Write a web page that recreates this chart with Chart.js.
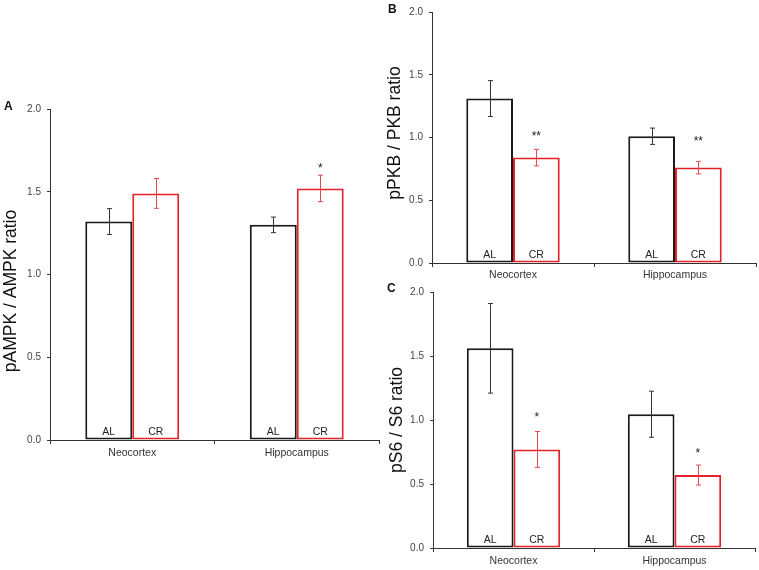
<!DOCTYPE html>
<html><head><meta charset="utf-8">
<script src="https://cdn.jsdelivr.net/npm/chart.js@4.4.1/dist/chart.umd.min.js"></script>
<style>
html,body{margin:0;padding:0;background:#fff;width:759px;height:570px;overflow:hidden;}
canvas{position:absolute;}
.lbl{position:absolute;font:bold 12px "Liberation Sans",Arial,sans-serif;color:#111;line-height:12px;}
</style></head><body>
<canvas id="cA" width="380" height="475" style="left:0;top:0"></canvas>
<canvas id="cB" width="379" height="290" style="left:380px;top:0"></canvas>
<canvas id="cC" width="379" height="290" style="left:380px;top:280px"></canvas>
<div class="lbl" style="left:4px;top:100px">A</div>
<div class="lbl" style="left:388px;top:3px">B</div>
<div class="lbl" style="left:387px;top:282px">C</div>
<script>
// ---- data ----
const categories = ['Neocortex', 'Hippocampus'];
const groupLabels = ['AL', 'CR'];
const yTickValues = [0, 0.5, 1.0, 1.5, 2.0];

// Panel A: pAMPK / AMPK
const alA = [1.32, 1.30];
const alErrA = [0.078, 0.047];
const crA = [1.49, 1.52];
const crErrA = [0.09, 0.08];
const starsA = ['', '*'];
const starAtA = [null, 1.65];

// Panel B: pPKB / PKB
const alB = [1.31, 1.01];
const alErrB = [0.143, 0.065];
const crB = [0.84, 0.76];
const crErrB = [0.066, 0.05];
const starsB = ['**', '**'];
const starAtB = [1.02, 0.98];

// Panel C: pS6 / S6
const alC = [1.56, 1.045];
const alErrC = [0.35, 0.18];
const crC = [0.77, 0.57];
const crErrC = [0.14, 0.078];
const starsC = ['*', '*'];
const starAtC = [1.03, 0.75];

const FONT = '"Liberation Sans", Arial, sans-serif';
Chart.defaults.font.family = FONT;

const errPlugin = {
  id: 'errbars',
  afterDatasetsDraw(chart) {
    const ctx = chart.ctx, ys = chart.scales.y;
    chart.data.datasets.forEach((ds, di) => {
      const meta = chart.getDatasetMeta(di);
      meta.data.forEach((bar, i) => {
        const v = ds.data[i], e = ds.errors[i];
        const x = Math.round(bar.x) + 0.5;
        const yT = ys.getPixelForValue(v + e), yB = ys.getPixelForValue(v - e);
        ctx.save();
        ctx.strokeStyle = ds.errColor; ctx.lineWidth = 1;
        ctx.beginPath();
        ctx.moveTo(x, yT); ctx.lineTo(x, yB);
        ctx.moveTo(x - 2.5, yT); ctx.lineTo(x + 2.5, yT);
        ctx.moveTo(x - 2.5, yB); ctx.lineTo(x + 2.5, yB);
        ctx.stroke();
        ctx.fillStyle = '#222';
        ctx.font = '10.5px ' + FONT;
        ctx.textAlign = 'center'; ctx.textBaseline = 'middle';
        ctx.fillText(ds.label, bar.x, ys.getPixelForValue(0) - 8);
        if (ds.stars && ds.stars[i]) {
          ctx.font = '12px ' + FONT;
          ctx.fillText(ds.stars[i], bar.x, ys.getPixelForValue(ds.starAt[i]) + 2);
        }
        ctx.restore();
      });
    });
  }
};
const yTitlePlugin = {
  id: 'ytitle',
  afterDraw(chart, args, opts) {
    const ctx = chart.ctx;
    ctx.save();
    ctx.translate(opts.x, opts.y);
    ctx.rotate(-Math.PI / 2);
    ctx.font = '17.5px ' + FONT;
    ctx.fillStyle = '#111';
    ctx.textAlign = 'center'; ctx.textBaseline = 'middle';
    ctx.fillText(opts.text, 0, 0);
    ctx.restore();
  }
};

function makeChart(id, al, alErr, cr, crErr, stars, starAt, g) {
  return new Chart(document.getElementById(id), {
    type: 'bar',
    data: {
      labels: categories,
      datasets: [
        { label: groupLabels[0], data: al, errors: alErr, errColor: '#333',
          backgroundColor: '#fff', borderColor: '#1a1a1a', borderWidth: 2, borderSkipped: false,
          stars: null, starAt: null },
        { label: groupLabels[1], data: cr, errors: crErr, errColor: '#e5484c',
          backgroundColor: '#fff', borderColor: '#e3222a', borderWidth: 2, borderSkipped: false,
          stars: stars, starAt: starAt }
      ]
    },
    options: {
      responsive: false, animation: false,
      layout: { padding: { left: 0, top: g.padTop, right: g.padRight, bottom: 0 } },
      datasets: { bar: { categoryPercentage: g.barPct, barPercentage: 1.0 } },
      plugins: { legend: { display: false }, tooltip: { enabled: false },
        ytitle: { text: g.title, x: g.tx, y: g.ty } },
      scales: {
        x: {
          offset: true,
          grid: { drawOnChartArea: false, offset: true, tickLength: 4, color: '#333', lineWidth: 1 },
          border: { color: '#333', width: 1 },
          ticks: { color: '#333', font: { size: 10.5 }, padding: g.xPad, maxRotation: 0 },
          afterFit(s) { s.height = g.xHeight; }
        },
        y: {
          min: 0, max: 2,
          afterBuildTicks(s) { s.ticks = yTickValues.map(v => ({ value: v })); },
          grid: { drawOnChartArea: false, tickLength: 3, color: '#333', lineWidth: 1 },
          border: { color: '#333', width: 1 },
          ticks: { color: '#444', font: { size: 10 }, padding: 6,
                   callback: v => Number(v).toFixed(1) },
          afterFit(s) { s.width = g.yWidth; }
        }
      }
    },
    plugins: [errPlugin, yTitlePlugin]
  });
}

makeChart('cA', alA, alErrA, crA, crErrA, starsA, starAtA,
  { padTop: 109, padRight: 1, yWidth: 50, xHeight: 35, barPct: 0.571, xPad: 3,
    title: 'pAMPK / AMPK ratio', tx: 11, ty: 291 });
makeChart('cB', alB, alErrB, crB, crErrB, starsB, starAtB,
  { padTop: 7, padRight: 3, yWidth: 52, xHeight: 27, barPct: 0.577, xPad: 1.5,
    title: 'pPKB / PKB ratio', tx: 15, ty: 133 });
makeChart('cC', alC, alErrC, crC, crErrC, starsC, starAtC,
  { padTop: 10, padRight: 4, yWidth: 53, xHeight: 22, barPct: 0.58, xPad: 3,
    title: 'pS6 / S6 ratio', tx: 17.5, ty: 140 });
</script>
</body></html>
